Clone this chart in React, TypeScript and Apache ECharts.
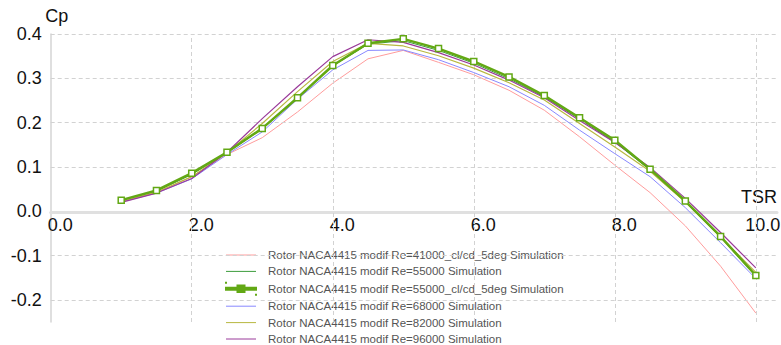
import React, { useEffect, useRef } from "react";
import * as echarts from "echarts";

const tsr = [1.0, 1.5, 2.0, 2.5, 3.0, 3.5, 4.0, 4.5, 5.0, 5.5, 6.0, 6.5, 7.0, 7.5, 8.0, 8.5, 9.0, 9.5, 10.0];

const re41000cl = [0.022, 0.042, 0.078, 0.128, 0.166, 0.224, 0.289, 0.344, 0.363, 0.336, 0.308, 0.273, 0.228, 0.168, 0.104, 0.042, -0.033, -0.124, -0.23];
const re55000 = [0.024, 0.045, 0.083, 0.132, 0.186, 0.255, 0.328, 0.377, 0.385, 0.363, 0.334, 0.299, 0.258, 0.208, 0.156, 0.093, 0.021, -0.059, -0.147];
const re55000cl = [0.025, 0.047, 0.086, 0.133, 0.187, 0.256, 0.329, 0.379, 0.389, 0.367, 0.338, 0.303, 0.261, 0.211, 0.16, 0.095, 0.023, -0.057, -0.145];
const re68000 = [0.021, 0.041, 0.073, 0.128, 0.179, 0.253, 0.319, 0.363, 0.364, 0.342, 0.313, 0.281, 0.239, 0.183, 0.13, 0.078, 0.008, -0.071, -0.152];
const re82000 = [0.022, 0.043, 0.078, 0.132, 0.198, 0.27, 0.338, 0.379, 0.373, 0.351, 0.323, 0.29, 0.251, 0.198, 0.145, 0.09, 0.021, -0.058, -0.138];
const re96000 = [0.02, 0.041, 0.074, 0.133, 0.209, 0.281, 0.349, 0.387, 0.381, 0.358, 0.33, 0.296, 0.256, 0.205, 0.155, 0.099, 0.029, -0.048, -0.128];

const seriesNames = [
  "Rotor NACA4415 modif Re=41000_cl/cd_5deg Simulation",
  "Rotor NACA4415 modif Re=55000 Simulation",
  "Rotor NACA4415 modif Re=55000_cl/cd_5deg Simulation",
  "Rotor NACA4415 modif Re=68000 Simulation",
  "Rotor NACA4415 modif Re=82000 Simulation",
  "Rotor NACA4415 modif Re=96000 Simulation",
];
const seriesValues = [re41000cl, re55000, re55000cl, re68000, re82000, re96000];
const seriesColors = ["#ff9c9c", "#3c9c3c", "#62a814", "#8888ff", "#b8b840", "#9a3a9a"];
const seriesWidths = [1, 1, 2.5, 1, 1.2, 1.2];

const xGridTicks = [2, 4, 6, 8, 10];
const yGridTicks = [0.4, 0.3, 0.2, 0.1, -0.1, -0.2];

const FONT = "Liberation Sans";
const markerIcon =
  "path://M0,0H0.01V0.01H0Z M29.99,11.99H30V12H29.99Z M0,5H30V7H0Z M11.5,2.8H18.5V9.2H11.5Z";

export default function App() {
  const ref = useRef<HTMLDivElement>(null);
  useEffect(() => {
    if (!ref.current) return;
    const chart = echarts.init(ref.current, undefined, { renderer: "svg" });
    const gridLine = { type: [4, 3], color: "#d2d2d2", width: 1 };
    const series: any[] = seriesNames.map((name, i) => {
      const s: any = {
        name,
        type: "line",
        data: tsr.map((t, k) => [t, seriesValues[i][k]]),
        lineStyle: { color: seriesColors[i], width: seriesWidths[i] },
        itemStyle: { color: seriesColors[i] },
        symbol: "none",
        z: 2 + i,
      };
      if (i === 2) {
        s.symbol = "rect";
        s.symbolSize = 6;
        s.showAllSymbol = true;
        s.z = 10;
        s.itemStyle = { color: "#ffffff", borderColor: seriesColors[i], borderWidth: 1.5 };
      }
      return s;
    });
    series.push({
      name: "grid",
      type: "line",
      data: [],
      z: 1,
      silent: true,
      markLine: {
        silent: true,
        symbol: "none",
        label: { show: false },
        lineStyle: gridLine,
        emphasis: { disabled: true },
        data: [
          ...xGridTicks.map((v) => ({ xAxis: v })),
          ...yGridTicks.map((v) => ({ yAxis: v })),
        ],
      },
    });
    chart.setOption({
      animation: false,
      backgroundColor: "#ffffff",
      grid: { left: 50.7, right: 4, top: 34, bottom: 23, containLabel: false, outerBoundsMode: "none" },
      legend: {
        orient: "vertical",
        left: 225,
        top: 249,
        padding: 0,
        itemWidth: 30,
        itemHeight: 12,
        itemGap: 4.4,
        textStyle: { fontFamily: FONT, fontSize: 11.5, color: "#555555", padding: [0, 0, 0, 7] },
        data: seriesNames.map((n, i) =>
          i === 2
            ? { name: n, icon: markerIcon, itemStyle: { color: seriesColors[2], opacity: 1 } }
            : { name: n, itemStyle: { opacity: 0 }, lineStyle: { width: 1, color: seriesColors[i] } }
        ),
      },
      xAxis: {
        type: "value",
        min: 0,
        max: 10.3,
        offset: -110,
        name: "TSR",
        nameLocation: "end",
        nameGap: 0,
        nameTextStyle: { fontFamily: FONT, fontSize: 18, color: "#111111", align: "right", verticalAlign: "bottom", padding: [0, 0, 6, 0] },
        axisLine: { onZero: false, lineStyle: { color: "#e0e0e0", width: 3 } },
        axisTick: { show: false },
        splitLine: { show: false },
        axisLabel: {
          margin: 4,
          fontFamily: FONT,
          fontSize: 18,
          color: "#111111",
          formatter: (v: number) => {
            if (Math.abs(v / 2 - Math.round(v / 2)) > 1e-6) return "";
            if (v === 10) return "{s10| }{t|" + v.toFixed(1) + "}";
            return "{s| }{t|" + v.toFixed(1) + "}";
          },
          rich: {
            s: { width: 19 },
            s10: { width: 14 },
            t: { fontFamily: FONT, fontSize: 18, color: "#111111" },
          },
        },
      },
      yAxis: {
        type: "value",
        min: -0.25,
        max: 0.4,
        name: "Cp",
        nameLocation: "end",
        nameGap: 8,
        nameTextStyle: { fontFamily: FONT, fontSize: 18, color: "#111111", padding: [0, 0, 0, 12] },
        axisLine: { show: true, lineStyle: { color: "#d4d4d4", width: 1.5 } },
        axisTick: { show: false },
        splitLine: { show: false },
        axisLabel: {
          margin: 9,
          fontFamily: FONT,
          fontSize: 18,
          color: "#111111",
          formatter: (v: number) => {
            if (Math.abs(v * 10 - Math.round(v * 10)) > 1e-6) return "";
            return v.toFixed(1);
          },
        },
      },
      series,
    });
    return () => chart.dispose();
  }, []);
  return <div ref={ref} style={{ width: 781, height: 345, position: "absolute", left: 0, top: 0 }} />;
}
